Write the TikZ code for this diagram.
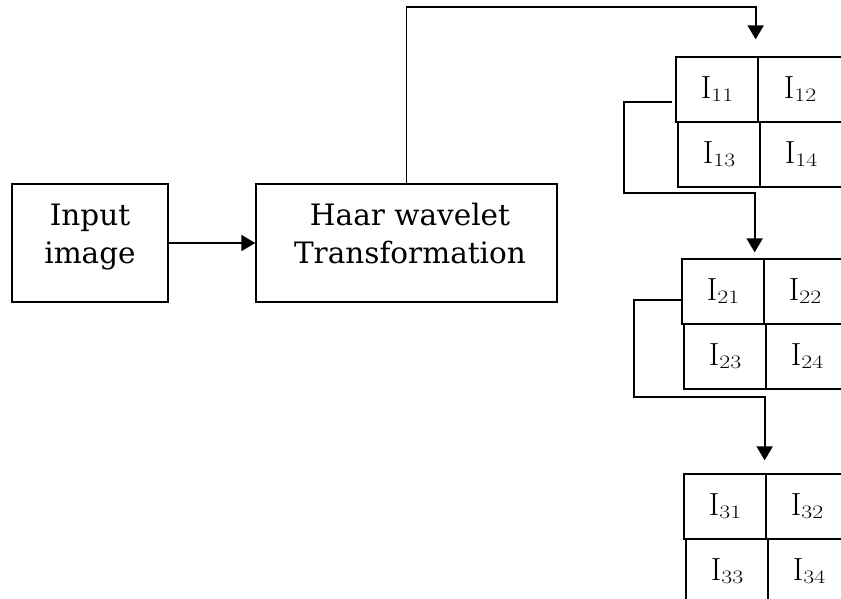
\documentclass[tikz,border=0pt]{standalone}
\usepackage{fontspec}
\usepackage{graphicx}
\newfontfamily\boxfont{DejaVu Serif}
\usetikzlibrary{arrows.meta,calc}
\newcommand{\cellI}[1]{I\raisebox{-3pt}{\fontsize{19}{20}\selectfont\scalebox{1.25}[1]{#1}}}
\begin{document}
\begin{tikzpicture}[x=1pt,y=-1pt,
  box/.style={draw,line width=1.4pt,inner sep=0pt},
  btext/.style={anchor=base,inner sep=0pt,font=\boxfont\fontsize{29.5}{36}\selectfont},
  cell/.style={draw,line width=1.3pt,inner sep=0pt,minimum height=65pt,font=\fontsize{32}{34}\selectfont},
  arr/.style={line width=1.9pt,-{Triangle[length=14pt,width=16pt]}}]
\useasboundingbox (0,0) rectangle (841,598);
\clip (0,0) rectangle (841,598);
% left boxes
\node[box,minimum width=156pt,minimum height=118pt] (inp) at (90,243) {};
\node[btext] (inp1) at (90,225) {Input};
\node[btext] (inp2) at (90,263) {image};
\node[box,minimum width=301pt,minimum height=118pt] (haar) at (406.5,243) {};
\node[btext] (haar1) at (410,225) {Haar wavelet};
\node[btext] (haar2) at (410,263) {Transformation};
% grid 1
\node[cell,minimum width=82pt] (g11) at (717,89.5) {\cellI{11}};
\node[cell,minimum width=84pt] (g12) at (800,89.5) {\cellI{12}};
\node[cell,minimum width=82pt] (g13) at (719,154.5) {\cellI{13}};
\node[cell,minimum width=82pt] (g14) at (801,154.5) {\cellI{14}};
% grid 2
\node[cell,minimum width=82pt] (g21) at (723,291.5) {\cellI{21}};
\node[cell,minimum width=82pt] (g22) at (805,291.5) {\cellI{22}};
\node[cell,minimum width=82pt] (g23) at (725,356.5) {\cellI{23}};
\node[cell,minimum width=82pt] (g24) at (807,356.5) {\cellI{24}};
% grid 3
\node[cell,minimum width=82pt] (g31) at (725,506.5) {\cellI{31}};
\node[cell,minimum width=82pt] (g32) at (807,506.5) {\cellI{32}};
\node[cell,minimum width=82pt] (g33) at (727,571.5) {\cellI{33}};
\node[cell,minimum width=82pt] (g34) at (809,571.5) {\cellI{34}};
% connectors
\draw[arr] (inp.east) -- (haar.west);
\draw[arr] (haar.north) |- (600,7) -| ([shift={(-3,-17)}]g11.north east);
\draw[arr] ([shift={(-3,12.5)}]g11.west) -| (624,193) -| ([shift={(-10,-6)}]g21.north east);
\draw[arr] ([shift={(0,8.5)}]g21.west) -| (634,397) -| ([shift={(-2,-13)}]g31.north east);
\end{tikzpicture}
\end{document}
